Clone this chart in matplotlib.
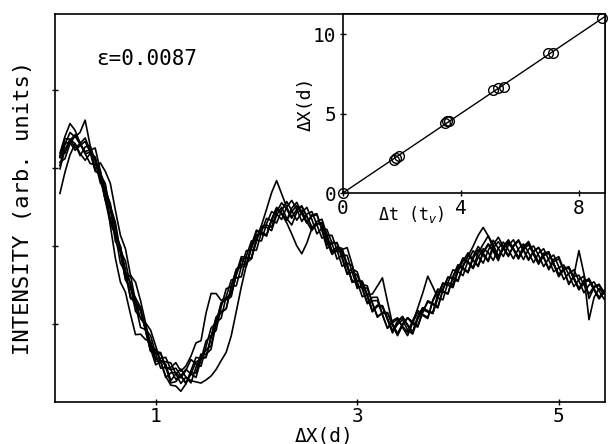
import numpy as np
import matplotlib
matplotlib.use('Agg')
import matplotlib.pyplot as plt

plt.rcParams['font.family'] = 'DejaVu Sans Mono'

# main panel: Delta X grid (units of d) and the mean intensity profile
dx_grid = np.round(np.arange(0.05, 5.4501, 0.05), 2)
base = [3.10, 3.23, 3.28, 3.28, 3.24, 3.21, 3.14, 3.01, 2.85, 2.64,
        2.40, 2.10, 1.85, 1.62, 1.41, 1.22, 1.04, 0.87, 0.72, 0.59,
        0.49, 0.40, 0.33, 0.29, 0.28, 0.29, 0.33, 0.40, 0.50, 0.64,
        0.79, 0.96, 1.13, 1.28, 1.42, 1.56, 1.69, 1.81, 1.92, 2.03,
        2.12, 2.21, 2.28, 2.35, 2.38, 2.41, 2.41, 2.40, 2.37, 2.35,
        2.31, 2.24, 2.17, 2.08, 1.99, 1.90, 1.81, 1.72, 1.62, 1.51,
        1.42, 1.33, 1.24, 1.17, 1.09, 1.03, 0.97, 0.95, 0.94, 0.95,
        0.97, 1.03, 1.08, 1.14, 1.22, 1.29, 1.38, 1.47, 1.55, 1.63,
        1.69, 1.74, 1.78, 1.82, 1.85, 1.87, 1.90, 1.91, 1.92, 1.92,
        1.92, 1.92, 1.91, 1.90, 1.87, 1.85, 1.82, 1.78, 1.74, 1.69,
        1.64, 1.59, 1.55, 1.51, 1.47, 1.44, 1.41, 1.38, 1.36]

# per-run deviations from the mean profile (in units of 1/70)
dev_a = [-5, 5, 12, 8, 15, 28, 10, -2, 15, 22,
         28, 25, 20, 24, 15, 5, 2, 8, -3, -8,
         2, 6, -4, 5, 10, 2, -6, 3, 8, -2,
         -8, 4, 10, 2, -5, 6, 12, 3, -6, 2,
         9, 4, -3, 6, 12, 4, -4, 5, 10, 2,
         -6, 3, 8, -2, -7, 4, 9, 1, -6, 3,
         8, 2, -5, 5, 10, 3, -4, 6, 11, 2,
         -6, 4, 9, 1, -5, 6, 10, 2, -6, 3,
         8, 12, 3, -6, 4, 10, 2, -7, 5, 11,
         3, -5, 6, 10, 1, -6, 4, 9, 2, -5,
         5, 10, 3, -4, 6, 9, 2, -3, 4]
dev_b = [-2, -8, 2, 9, 4, 0, 6, 17, 8, 2,
         8, 14, 5, -4, 3, 8, 12, 4, -5, 2,
         9, 3, -6, -2, 4, -3, 2, 8, 3, -4,
         3, 9, 2, -6, 4, 10, 5, -3, 6, 12,
         4, -5, 3, 9, 2, -6, 5, 11, 3, -4,
         6, 12, 2, -8, 3, 10, 4, -5, 6, 11,
         3, -4, 7, 12, 2, -6, 5, 9, 1, -7,
         3, 8, 2, -5, 6, 11, 3, -6, 4, 9,
         2, -5, 6, 12, 4, -4, 8, 14, 5, -3,
         5, 10, 2, -6, 4, 9, 3, -5, 6, 12,
         4, -6, 5, 30, 12, -8, 4, 8, 2]
dev_c = [-30, -20, -8, 2, -4, -8, 3, 8, 2, -4,
         -8, 3, 10, 5, -4, 2, 9, 3, -5, 4,
         10, 2, 8, 15, 8, 12, 18, 25, 20, 35,
         42, 30, 12, 4, -3, 5, 9, -2, -6, 4,
         8, 2, -6, 3, 8, -4, -10, 2, 6, -3,
         -8, 3, 9, 4, -5, 2, 8, 3, -5, 3,
         8, 2, -6, 4, 9, 2, -5, 3, 8, -2,
         -7, 2, 7, 1, -6, 3, 9, 4, -3, 5,
         10, 3, -5, 2, 8, 3, -6, 4, 9, 2,
         -6, 3, 8, 1, -6, 4, 10, 3, -5, 2,
         8, 3, -5, 4, 10, -27, -5, 5, 2]
dev_d = [3, 10, 6, -2, 5, 12, 6, -3, 4, 10,
         5, -3, 6, 13, 5, -4, 3, 9, 2, -5,
         3, 8, 12, 5, -3, 2, -4, -10, -18, -25,
         -32, -38, -42, -45, -40, -28, -15, -4, 3, 8,
         2, -5, 4, 10, 3, -6, 2, 8, 3, -4,
         5, 11, 3, -5, 4, 9, 2, -6, 3, 8,
         2, -5, 4, 9, 2, -6, 3, 8, 2, -4,
         5, 10, 3, -4, 5, 9, 2, -6, 3, 8,
         1, -6, 4, 9, 2, -5, 5, 10, 3, -4,
         6, 11, 3, -5, 4, 9, 2, -6, 4, 10,
         3, -5, 4, 8, 2, -4, 5, 9, 3]
dev_e = [6, 12, 20, 14, 5, -2, -6, 2, 8, 3,
         -4, 4, 10, 2, -6, 5, 10, 3, -4, 6,
         2, -5, -8, -6, -10, -4, 3, -2, 6, 2,
         -5, 3, 9, 4, -3, 5, 10, 2, -5, 4,
         10, 18, 28, 34, 20, 6, -3, 4, 9, 2,
         -5, 3, 8, 2, -6, 4, 10, 18, 10, -2,
         3, 9, 2, -5, 3, 8, 1, -7, 3, 9,
         4, -4, 5, 10, 2, -6, 4, 9, 3, -5,
         3, 9, 15, 22, 27, 18, 5, -4, 3, 8,
         2, -6, 4, 10, 3, -5, 5, 10, 2, -4,
         5, 9, 3, -5, 4, 10, 3, -3, 5]
dev_f = [-8, 0, 6, 2, -6, 4, 10, 5, -3, 5,
         10, 3, -5, 3, 8, 2, -6, 4, 9, 2,
         -4, 3, 6, 10, 4, -4, 5, 12, 4, -5,
         3, 8, 1, -6, 4, 9, 3, -5, 5, 11,
         3, -6, 4, 9, 2, -8, -18, -28, -33, -22,
         -6, 5, 12, 4, -4, 6, 11, 3, -6, 3,
         9, 3, -5, 4, 10, 2, -6, 5, 10, 3,
         -5, 4, 9, 2, -6, 4, 10, 2, -5, 5,
         11, 4, -4, 6, 12, 18, 8, -3, 5, 10,
         3, -6, 3, 8, 2, -5, 4, 9, 2, -6,
         4, 9, 2, -4, 5, 8, 2, -4, 3]
dev_g = [4, -3, 5, 10, 6, -2, 4, 9, 3, -4,
         5, 11, 4, -3, 15, 22, 18, 10, 14, 9,
         2, -6, 3, 6, 2, 8, 15, 6, -3, 5,
         11, 4, -4, 5, 10, 2, -6, 4, 10, 3,
         -4, 5, 11, 4, -3, 6, 12, 5, -4, 4,
         9, 2, -5, 4, 10, 3, -5, 4, 9, 2,
         -5, 3, 10, 22, 35, 18, 2, -5, 4, 9,
         2, -5, 5, 11, 3, -5, 4, 9, 2, -6,
         4, 10, 2, -5, 5, 11, 3, -5, 4, 9,
         3, -5, 5, 11, 3, -4, 6, 10, 2, -5,
         4, 9, 2, -5, 4, 9, 2, -4, 4]
dev_h = [2, 6, 3, -4, 3, 9, 4, -4, 5, 11,
         -10, -18, -22, -15, -20, -25, -12, -5, 4, -3,
         5, 12, 6, 0, 4, 9, 2, -6, 3, 10,
         4, -3, 6, 12, 4, -5, 3, 9, 2, -6,
         4, 10, 3, -4, 5, 11, 3, -5, 4, 10,
         2, -6, 4, 9, 3, -5, 5, 11, 3, -4,
         6, 11, 2, -6, 4, 8, 2, -6, 4, 9,
         3, 12, 22, 33, 18, 3, -5, 4, 10, 3,
         -5, 5, 11, 3, -5, 5, 12, 4, -4, 6,
         11, 2, -6, 4, 9, 2, -6, 4, 10, 3,
         -5, 4, 10, 3, -5, 4, 9, 3, -3]

# inset: displacement vs time delay
dt_pts = [0, 1.73, 1.80, 1.90, 3.46, 3.52, 3.60, 5.08, 5.27, 5.46, 6.96, 7.12, 8.80]
dx_pts = [0, 2.10, 2.20, 2.30, 4.40, 4.50, 4.55, 6.50, 6.60, 6.70, 8.80, 8.80, 11.0]
fit_slope = 1.25

fig = plt.figure(figsize=(6.1, 4.44), dpi=100)
ax = fig.add_axes([0.090, 0.0946, 0.902, 0.874])
for dev in [dev_a, dev_b, dev_c, dev_d, dev_e, dev_f, dev_g, dev_h]:
    ax.plot(dx_grid, np.array(base) + np.array(dev) / 70.0, color='black', lw=1.2)
ax.set_xlim(0.0, 5.46)
ax.set_ylim(0, 4.97)
ax.set_xticks([1, 3, 5])
ax.set_yticks([1, 2, 3, 4])
ax.set_yticklabels([])
ax.tick_params(direction='inout', length=5, width=1, labelsize=14, pad=1)
ax.set_xlabel('ΔX(d)', fontsize=14)
ax.xaxis.set_label_coords(0.49, -0.063)
ax.set_ylabel('INTENSITY (arb. units)', fontsize=16, labelpad=12)
ax.text(0.41, 4.32, 'ε=0.0087', fontsize=15)
for s in ax.spines.values():
    s.set_linewidth(1.2)

ins = fig.add_axes([0.562, 0.5653, 0.4295, 0.403])
ins.plot([0, 8.88], [0, 8.88 * fit_slope], color='black', lw=1.0)
ins.plot(dt_pts, dx_pts, 'o', mfc='none', mec='black', ms=7, mew=1.0, clip_on=False)
ins.set_xlim(0, 8.88)
ins.set_ylim(0, 11.26)
ins.set_xticks([0, 4, 8])
ins.set_yticks([0, 5, 10])
ins.tick_params(direction='inout', length=5, width=1, labelsize=14, pad=2)
ins.set_xlabel('Δt (t$_v$)', fontsize=12)
ins.xaxis.set_label_coords(0.26, -0.06)
ins.set_ylabel('ΔX(d)', fontsize=13, labelpad=-1)
for s in ins.spines.values():
    s.set_linewidth(1.2)

fig.savefig('out.png', dpi=100)
